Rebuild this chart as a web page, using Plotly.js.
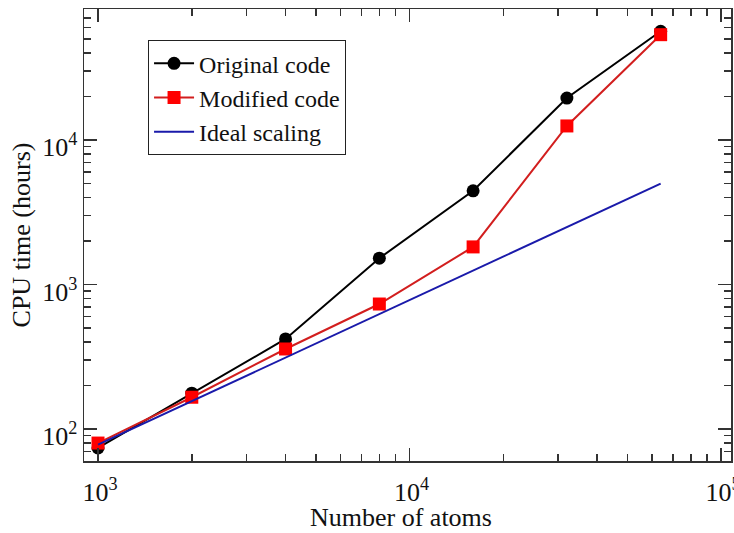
<!DOCTYPE html>
<html>
<head>
<meta charset="utf-8">
<script src="https://cdn.plot.ly/plotly-3.0.1.min.js"></script>
<style>html,body{margin:0;padding:0;background:#fff;}#chart{width:734px;height:533px;}</style>
</head>
<body>
<div id="chart"></div>
<script>
// Data
var atoms = [1000, 2000, 4000, 8000, 16000, 32000, 64000];
var originalCode = [74, 177, 420, 1520, 4450, 19500, 56500];
var modifiedCode = [80, 166, 358, 733, 1820, 12500, 53500];
var idealAtoms = [1000, 2000, 4000, 8000, 16000, 32000, 64000];
var idealScaling = [78, 156, 312, 624, 1248, 2496, 4992];
var seriesNames = ['Original code', 'Modified code', 'Ideal scaling'];
var xTickVals = [1000, 10000, 100000];
var xTickText = ['10<sup>3</sup>', '10<sup>4</sup>', '10<sup>5</sup>'];
var yTickVals = [100, 1000, 10000];
var yTickText = ['10<sup>2</sup>', '10<sup>3</sup>', '10<sup>4</sup>'];
var xTitle = 'Number of atoms';
var yTitle = 'CPU time (hours)';

function minorTicks(lo, hi) {
  var out = [];
  for (var d = lo; d < hi; d *= 10) {
    for (var k = 2; k <= 9; k++) out.push(k * d);
  }
  return out;
}
var minorX = minorTicks(100, 1000000);
var minorY = minorTicks(10, 1000000);

var fontFam = 'Liberation Serif, Times New Roman, serif';

var traces = [
  {
    x: atoms, y: originalCode, name: seriesNames[0], type: 'scatter', mode: 'lines+markers',
    line: {color: '#000000', width: 2},
    marker: {color: '#000000', size: 13, symbol: 'circle'}
  },
  {
    x: atoms, y: modifiedCode, name: seriesNames[1], type: 'scatter', mode: 'lines+markers',
    line: {color: '#d21e1e', width: 2},
    marker: {color: '#ff0000', size: 13, symbol: 'square'}
  },
  {
    x: idealAtoms, y: idealScaling, name: seriesNames[2], type: 'scatter', mode: 'lines',
    line: {color: '#1a1aaa', width: 2}
  }
];

var axisCommon = {
  type: 'log',
  showgrid: false,
  zeroline: false,
  showline: true,
  linecolor: '#333333',
  linewidth: 1.5,
  mirror: 'allticks',
  ticks: 'inside',
  ticklen: 13,
  tickwidth: 1.5,
  tickcolor: '#333333',
  tickmode: 'array',
  ticklabeloverflow: 'allow',
  tickfont: {family: fontFam, size: 26, color: '#111111'}
};

var layout = {
  width: 734, height: 533,
  margin: {l: 84, r: 3, t: 9, b: 72},
  paper_bgcolor: '#ffffff',
  plot_bgcolor: '#ffffff',
  font: {family: fontFam, color: '#111111'},
  showlegend: true,
  legend: {
    x: 0.099, y: 0.931, xanchor: 'left', yanchor: 'top',
    bgcolor: '#ffffff', bordercolor: '#222222', borderwidth: 1,
    font: {family: fontFam, size: 24, color: '#111111'},
    itemwidth: 40
  },
  xaxis: Object.assign({}, axisCommon, {
    range: [2.955, 5.032],
    tickvals: xTickVals, ticktext: xTickText,
    ticklabelstandoff: 7,
    ticklabelshift: 2,
    minor: {tickmode: 'array', tickvals: minorX, ticks: 'inside', ticklen: 7, tickwidth: 1.5, tickcolor: '#333333'}
  }),
  yaxis: Object.assign({}, axisCommon, {
    range: [1.779, 4.906],
    tickvals: yTickVals, ticktext: yTickText,
    ticklabelshift: 7,
    minor: {tickmode: 'array', tickvals: minorY, ticks: 'inside', ticklen: 7, tickwidth: 1.5, tickcolor: '#333333'},
    title: {text: yTitle, font: {family: fontFam, size: 26, color: '#111111'}, standoff: 4}
  }),
  annotations: [
    {
      text: xTitle, xref: 'paper', yref: 'paper', x: 0.49, y: -0.125,
      xanchor: 'center', yanchor: 'middle', showarrow: false,
      font: {family: fontFam, size: 26, color: '#111111'}
    }
  ]
};

Plotly.newPlot('chart', traces, layout, {displayModeBar: false, staticPlot: true});
</script>
</body>
</html>
